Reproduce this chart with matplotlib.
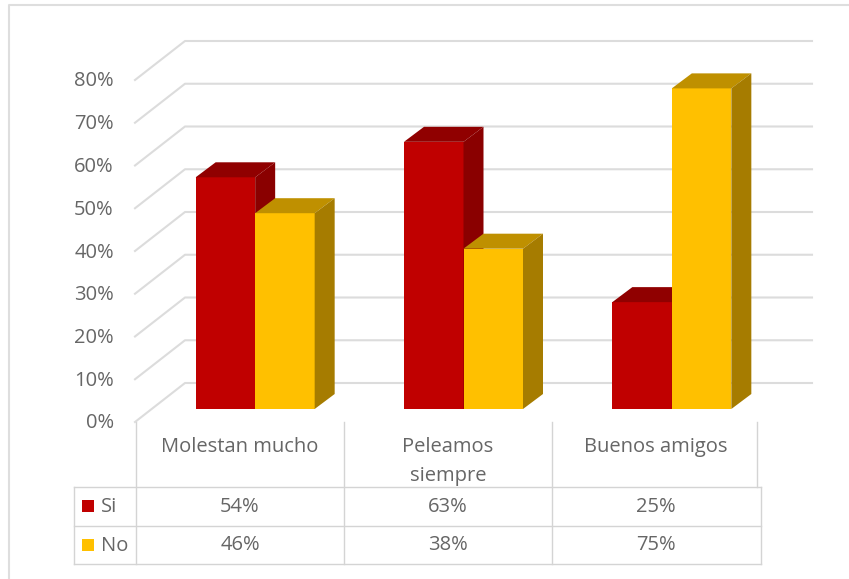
import matplotlib
import matplotlib.pyplot as plt
from matplotlib.patches import Polygon, Rectangle

matplotlib.use("Agg")
plt.rcParams["font.family"] = ["Open Sans", "DejaVu Sans"]

categories = ["Molestan mucho", "Peleamos\nsiempre", "Buenos amigos"]
series_names = ["Si", "No"]
si_values = [54.2, 62.5, 25]
no_values = [45.8, 37.5, 75]
y_ticks = [0, 10, 20, 30, 40, 50, 60, 70, 80]
pct_labels_si = ["54%", "63%", "25%"]
pct_labels_no = ["46%", "38%", "75%"]

W, H = 849, 579
TEXT = "#666666"
GRID = "#dcdcdc"
LINE = "#d4d4d4"
RED = ("#c00000", "#900000", "#8a0000")
YELLOW = ("#ffc000", "#bf9000", "#a67c00")
FS = 14.5


def px_axes(left, top, right, bottom):
    return fig.add_axes([left / W, 1 - bottom / H, (right - left) / W, (bottom - top) / H])


fig = plt.figure(figsize=(W / 100, H / 100), dpi=100)

# overlay in pixels for the frame and the table lines
page = px_axes(0, 0, W, H)
page.set_xlim(0, W)
page.set_ylim(H, 0)
page.axis("off")
page.plot([9, 9, W], [H, 4.5, 4.5], color="#dedede", lw=1.5)

# front plane of the bars: one x unit is a category, y is in percent
ax = px_axes(136, 67, 761, 409)
ax.set_xlim(0, 3)
ax.set_ylim(0, 80)
ax.axis("off")
sx = 3 / 625
sy = 80 / 342
bar_w = 59.5 * sx
dx, dy = 20 * sx, 15 * sy

# walls: diagonals and gridlines sit behind the bars
for t in y_ticks:
    ax.plot([-1 * sx, 49 * sx, 676 * sx], [t - 13 * sy, t + 26 * sy, t + 26 * sy],
            color=GRID, lw=1.5, clip_on=False, zorder=1)


def draw_bar(x, v, cols):
    front, top, side = cols
    ax.add_patch(Rectangle((x, 0), bar_w, v, fc=front, ec="none", zorder=3))
    ax.add_patch(Polygon([(x, v), (x + dx, v + dy), (x + bar_w + dx, v + dy), (x + bar_w, v)],
                         fc=top, ec="none", zorder=3, clip_on=False))
    ax.add_patch(Polygon([(x + bar_w, 0), (x + bar_w + dx, dy), (x + bar_w + dx, v + dy), (x + bar_w, v)],
                         fc=side, ec="none", zorder=3, clip_on=False))


for i in range(len(categories)):
    x = i + 0.5 - bar_w + 15 * sx
    draw_bar(x, si_values[i], RED)
    draw_bar(x + bar_w, no_values[i], YELLOW)

# tick labels live on the front edge of the floor
ax_t = px_axes(136, 79, 137, 421)
ax_t.set_ylim(0, 80)
ax_t.set_xticks([])
ax_t.set_yticks(y_ticks)
ax_t.set_yticklabels([f"{t}%" for t in y_ticks], color=TEXT, fontsize=FS)
ax_t.tick_params(axis="y", length=0, pad=16)
for s in ax_t.spines.values():
    s.set_visible(False)
ax_t.patch.set_alpha(0)

# data table below the plot
col_x = [136.5, 344, 552]
rows_y = [487, 526, 564]
for xc in col_x:
    page.plot([xc, xc], [422, rows_y[-1]], color=LINE, lw=1)
page.plot([757, 757], [422, rows_y[0]], color=LINE, lw=1)
page.plot([761, 761], [rows_y[0], rows_y[-1]], color=LINE, lw=1)
for yr in rows_y:
    page.plot([74, 761], [yr, yr], color=LINE, lw=1)
page.plot([74, 74], [rows_y[0], rows_y[-1]], color=LINE, lw=1)

col_centers = [240, 448, 656]
for i, name in enumerate(categories):
    xc = col_centers[i]
    for j, line in enumerate(name.split("\n")):
        page.text(xc, 447 + 29 * j, line, ha="center", va="center", color=TEXT, fontsize=FS)
    page.text(xc, 507, pct_labels_si[i], ha="center", va="center", color=TEXT, fontsize=FS)
    page.text(xc, 545, pct_labels_no[i], ha="center", va="center", color=TEXT, fontsize=FS)

for name, yc, col in zip(series_names, [506, 545], [RED[0], YELLOW[0]]):
    page.add_patch(Rectangle((82, yc - 6), 12, 12, fc=col, ec="none"))
    page.text(101, yc + 1, name, ha="left", va="center", color=TEXT, fontsize=FS)

fig.savefig("out.png", dpi=100)
